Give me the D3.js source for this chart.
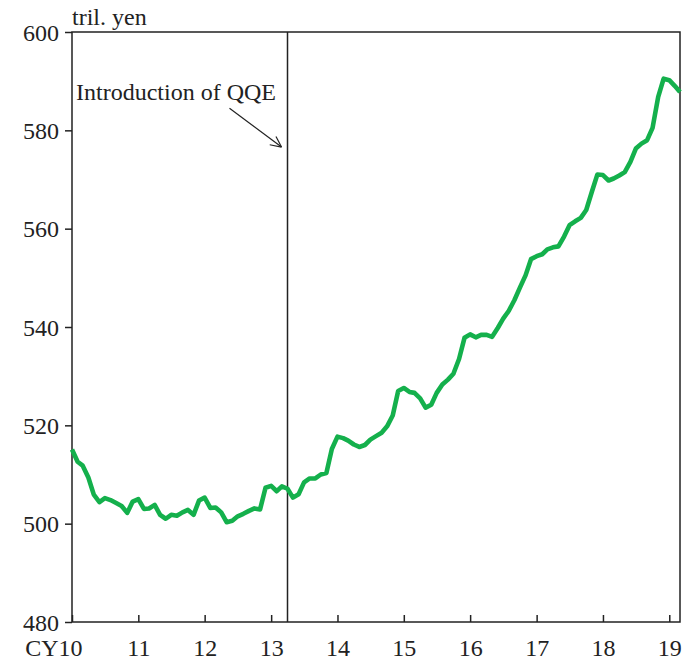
<!DOCTYPE html>
<html>
<head>
<meta charset="utf-8">
<script src="https://cdn.jsdelivr.net/npm/d3@7"></script>
<style>
  body { margin: 0; background: #fff; }
  svg text { font-family: "Liberation Serif", "Times New Roman", serif; fill: #222; }
</style>
</head>
<body>
<div id="chart"></div>
<script>
// monthly, Jan 2010 .. Mar 2019, tril. yen
var startMonth = [2010, 0];
var values = [
  515.1, 512.6, 511.8, 509.4, 505.9, 504.4, 505.2, 504.8, 504.2, 503.6, 502.2, 504.5,
  505.0, 503.0, 503.1, 503.8, 501.8, 501.0, 501.8, 501.6, 502.3, 502.8, 501.8, 504.7,
  505.3, 503.2, 503.3, 502.3, 500.3, 500.6, 501.5, 502.0, 502.6, 503.1, 502.9, 507.3,
  507.7, 506.6, 507.6, 507.1, 505.3, 506.0, 508.4, 509.2, 509.2, 510.0, 510.3, 515.2,
  517.7, 517.4, 516.9, 516.1, 515.6, 516.0, 517.1, 517.8, 518.5, 519.8, 522.0, 527.0,
  527.6, 526.8, 526.6, 525.5, 523.6, 524.2, 526.6, 528.3, 529.3, 530.5, 533.5, 537.8,
  538.5, 537.9, 538.4, 538.4, 538.0, 539.8, 541.7, 543.3, 545.5, 548.0, 550.5, 553.8,
  554.4, 554.8, 555.8, 556.2, 556.4, 558.4, 560.7, 561.5, 562.2, 563.8, 567.5, 571.0,
  570.9, 569.8, 570.2, 570.8, 571.5, 573.6, 576.3, 577.3, 578.0, 580.5, 586.8, 590.5,
  590.2, 589.0, 587.8
];
var yTicks = [480, 500, 520, 540, 560, 580, 600];
var xTickYears = [2010, 2011, 2012, 2013, 2014, 2015, 2016, 2017, 2018, 2019];
var xTickLabels = ["CY10", "11", "12", "13", "14", "15", "16", "17", "18", "19"];
var qqeDate = new Date(2013, 3, 1);
var qqeLabel = "Introduction of QQE";
var unitLabel = "tril. yen";

var width = 693, height = 662;
var margin = {top: 32, right: 13, bottom: 40, left: 72};

var data = values.map(function(v, i) {
  return {date: new Date(startMonth[0], startMonth[1] + i, 1), value: v};
});

var svg = d3.select('#chart').append('svg')
  .attr('width', width)
  .attr('height', height);

var x = d3.scaleTime()
  .domain([data[0].date, data[data.length - 1].date])
  .range([margin.left, width - margin.right]);

var y = d3.scaleLinear()
  .domain([480, 600])
  .range([height - margin.bottom, margin.top]);

// y axis, ticks outward
var yAxis = svg.append('g')
  .attr('transform', 'translate(' + margin.left + ',0)')
  .call(d3.axisLeft(y).tickValues(yTicks).tickSize(7).tickPadding(6));

// x axis, ticks inward
var xAxis = svg.append('g')
  .attr('transform', 'translate(0,' + (height - margin.bottom) + ')')
  .call(d3.axisBottom(x)
    .tickValues(xTickYears.map(function(yr) { return new Date(yr, 0, 1); }))
    .tickFormat(function(d, i) { return xTickLabels[i]; })
    .tickSize(-7).tickPadding(17));

[yAxis, xAxis].forEach(function(ax) {
  ax.select('.domain').remove();
  ax.selectAll('line').attr('stroke', '#222').attr('stroke-width', 1.5);
  ax.selectAll('text').style('font-size', '24px').attr('fill', '#222');
});
yAxis.selectAll('text').attr('dy', '0.34em');
xAxis.selectAll('text').attr('dy', '0.71em');
xAxis.selectAll('.tick').filter(function(d, i) { return i === 0; })
  .select('text').attr('text-anchor', 'end').attr('x', 10);

// frame
svg.append('rect')
  .attr('x', margin.left)
  .attr('y', margin.top)
  .attr('width', width - margin.left - margin.right)
  .attr('height', height - margin.top - margin.bottom)
  .attr('fill', 'none')
  .attr('stroke', '#222')
  .attr('stroke-width', 1.5);

// QQE marker
svg.append('line')
  .attr('x1', x(qqeDate)).attr('x2', x(qqeDate))
  .attr('y1', margin.top).attr('y2', height - margin.bottom)
  .attr('stroke', '#222')
  .attr('stroke-width', 1.5);

// series
var line = d3.line()
  .x(function(d) { return x(d.date); })
  .y(function(d) { return y(d.value); });

svg.append('path')
  .datum(data)
  .attr('d', line)
  .attr('fill', 'none')
  .attr('stroke', '#14b04c')
  .attr('stroke-width', 4.6)
  .attr('stroke-linejoin', 'round');

// annotation
var ax0 = x(qqeDate) - 58, ay0 = y(584.5);
var ax1 = x(qqeDate) - 6, ay1 = y(576.6);
svg.append('line')
  .attr('x1', ax0).attr('y1', ay0).attr('x2', ax1).attr('y2', ay1)
  .attr('stroke', '#222').attr('stroke-width', 1.2);
var ang = Math.atan2(ay1 - ay0, ax1 - ax0);
[-0.45, 0.45].forEach(function(da) {
  svg.append('line')
    .attr('x1', ax1).attr('y1', ay1)
    .attr('x2', ax1 - 12 * Math.cos(ang + da))
    .attr('y2', ay1 - 12 * Math.sin(ang + da))
    .attr('stroke', '#222').attr('stroke-width', 1.2);
});

svg.append('text')
  .attr('x', margin.left + 4)
  .attr('y', y(586.2))
  .style('font-size', '24px')
  .text(qqeLabel);

svg.append('text')
  .attr('x', margin.left)
  .attr('y', margin.top - 7)
  .style('font-size', '24px')
  .text(unitLabel);
</script>
</body>
</html>
